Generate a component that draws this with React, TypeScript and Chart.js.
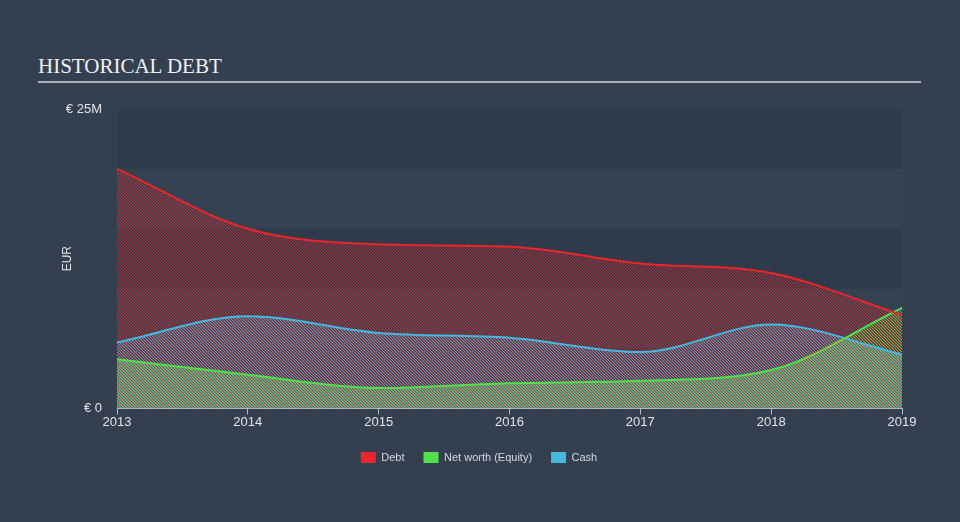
import React, { useEffect, useRef } from 'react';
import { Chart, registerables } from 'chart.js';
Chart.register(...registerables);

const years = ['2013', '2014', '2015', '2016', '2017', '2018', '2019'];
const debt = [20.0, 15.0, 13.7, 13.5, 12.1, 11.3, 7.8];
const equity = [4.1, 2.8, 1.7, 2.1, 2.3, 3.2, 8.4];
const cash = [5.5, 7.7, 6.3, 5.9, 4.7, 7.0, 4.5];
const yMax = 25;
const bandStep = 5;
const yTickLabels: Record<number, string> = { 0: '€ 0', 25: '€ 25M' };
const seriesNames = ['Debt', 'Net worth (Equity)', 'Cash'];

const BG = '#344050';
const BAND_DARK = '#2f3b4a';
const BAND_LIGHT = '#354252';
const RED = '#e8262b';
const GREEN = '#4fe04b';
const BLUE = '#45b8dd';

function makePattern(color: string, offset: number): CanvasPattern | string {
  const c = document.createElement('canvas');
  c.width = 3;
  c.height = 3;
  const g = c.getContext('2d');
  if (!g) return color;
  g.fillStyle = color;
  g.globalAlpha = 0.9;
  for (let i = 0; i < 3; i++) {
    g.fillRect((i + offset) % 3, i, 1, 1);
  }
  const p = g.createPattern(c, 'repeat');
  return p || color;
}

const bandsPlugin = {
  id: 'bands',
  beforeDraw(chart: any) {
    const { ctx, chartArea, scales } = chart;
    const y = scales.y;
    ctx.save();
    for (let k = 0; k * bandStep < yMax; k++) {
      const top = y.getPixelForValue((k + 1) * bandStep);
      const bottom = y.getPixelForValue(k * bandStep);
      ctx.fillStyle = k % 2 === 0 ? BAND_DARK : BAND_LIGHT;
      ctx.fillRect(chartArea.left, top, chartArea.right - chartArea.left, bottom - top);
    }
    ctx.restore();
  },
};

export default function App() {
  const ref = useRef<HTMLCanvasElement>(null);
  useEffect(() => {
    const canvas = ref.current;
    if (!canvas) return;
    const colors = [RED, GREEN, BLUE];
    const values = [debt, equity, cash];
    const chart = new Chart(canvas, {
      type: 'line',
      data: {
        labels: years,
        datasets: values.map((v, i) => ({
          label: seriesNames[i],
          data: v,
          borderColor: colors[i],
          backgroundColor: makePattern(colors[i], i) as any,
          borderWidth: 2,
          pointRadius: 0,
          fill: 'origin',
          cubicInterpolationMode: 'monotone' as const,
        })),
      },
      options: {
        responsive: false,
        animation: false,
        devicePixelRatio: 1,
        layout: { padding: { left: 56, top: 109, right: 58, bottom: 49 } },
        plugins: {
          filler: { drawTime: 'beforeDatasetsDraw' },
          legend: {
            position: 'bottom',
            labels: {
              boxWidth: 15,
              boxHeight: 11,
              padding: 19,
              color: '#d4d8dc',
              font: { family: '"Liberation Sans", Arial, sans-serif', size: 11 },
              generateLabels: (ch: any) =>
                ch.data.datasets.map((d: any, i: number) => ({
                  text: d.label,
                  fillStyle: colors[i],
                  strokeStyle: colors[i],
                  lineWidth: 0,
                  fontColor: '#d4d8dc',
                  datasetIndex: i,
                })),
            },
          },
          tooltip: { enabled: false },
        },
        scales: {
          x: {
            offset: false,
            afterFit: (s: any) => {
              s.height += 3;
            },
            grid: { display: true, drawOnChartArea: false, tickLength: 6, color: '#b8bec6' },
            border: { display: true, color: '#b8bec6', width: 1 },
            ticks: {
              color: '#e2e4e6',
              padding: 0,
              maxRotation: 0,
              font: { family: '"Liberation Sans", Arial, sans-serif', size: 13 },
            },
          },
          y: {
            min: 0,
            max: yMax,
            afterFit: (s: any) => {
              s.width = 61;
            },
            afterBuildTicks: (s: any) => {
              s.ticks = Object.keys(yTickLabels).map((k) => ({ value: Number(k) }));
            },
            grid: { display: false },
            border: { display: false },
            title: {
              display: true,
              text: 'EUR',
              color: '#e2e4e6',
              font: { family: '"Liberation Sans", Arial, sans-serif', size: 12 },
            },
            ticks: {
              color: '#e2e4e6',
              padding: 7,
              font: { family: '"Liberation Sans", Arial, sans-serif', size: 13 },
              callback: (v: any) => yTickLabels[Number(v)] ?? '',
            },
          },
        },
      },
      plugins: [bandsPlugin],
    });
    return () => chart.destroy();
  }, []);
  return (
    <div
      style={{
        position: 'fixed',
        left: 0,
        top: 0,
        width: 960,
        height: 522,
        background: BG,
        overflow: 'hidden',
      }}
    >
      <div
        style={{
          position: 'absolute',
          left: 38,
          top: 54,
          font: '21px "Liberation Serif", "Times New Roman", serif',
          lineHeight: '24px',
          color: '#f0f0f0',
          whiteSpace: 'nowrap',
        }}
      >
        HISTORICAL DEBT
      </div>
      <div
        style={{
          position: 'absolute',
          left: 38,
          top: 81,
          width: 883,
          height: 2,
          background: '#aab0b8',
        }}
      />
      <canvas
        ref={ref}
        width={960}
        height={522}
        style={{ position: 'absolute', left: 0, top: 0, width: 960, height: 522 }}
      />
    </div>
  );
}
